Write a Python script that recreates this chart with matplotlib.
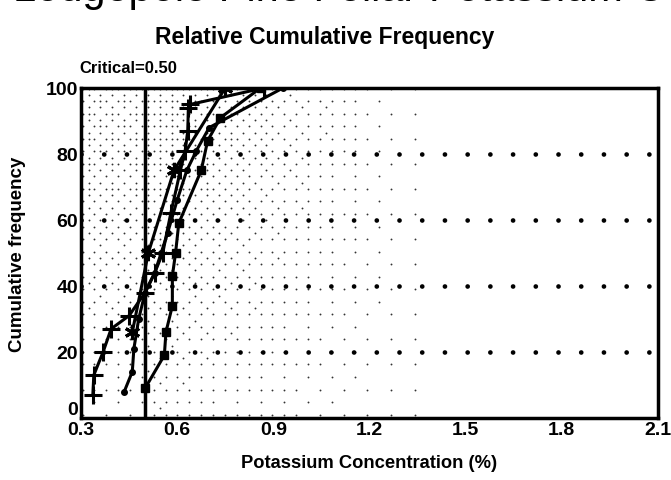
import numpy as np
import matplotlib
matplotlib.use("Agg")
import matplotlib.pyplot as plt

plt.rcParams['font.family'] = ['Liberation Sans', 'DejaVu Sans']

# Data
plus_x = [0.337, 0.34, 0.369, 0.394, 0.45, 0.50, 0.53, 0.555, 0.58, 0.61, 0.625, 0.633, 0.635, 0.64, 0.87]
plus_y = [7, 13, 20, 27, 31, 38, 44, 50, 62, 75, 81, 87, 94, 95, 100]

star_x = [0.46, 0.51, 0.59, 0.75]
star_y = [26, 50, 75, 100]

dot_x = [0.435, 0.46, 0.465, 0.48, 0.50, 0.53, 0.55, 0.57, 0.60, 0.63, 0.66, 0.70, 0.93]
dot_y = [8, 14, 21, 30, 38, 44, 50, 56, 66, 75, 81, 88, 100]

sq_x = [0.50, 0.56, 0.565, 0.585, 0.585, 0.595, 0.605, 0.675, 0.695, 0.735, 0.86]
sq_y = [9, 19, 26, 34, 43, 50, 59, 75, 84, 91, 100]

xticks = [0.3, 0.6, 0.9, 1.2, 1.5, 1.8, 2.1]
xtick_labels = ["0.3", "0.6", "0.9", "1.2", "1.5", "1.8", "2.1"]
yticks = [0, 20, 40, 60, 80, 100]
critical = 0.50

fig = plt.figure(figsize=(6.71, 4.81), dpi=100)
ax = fig.add_axes([0.1207, 0.129, 0.860, 0.686])
ax.set_xlim(0.3, 2.1)
ax.set_ylim(0, 100)

# stipple texture (decorative ordered dither)
bayer = np.array([[0, 8, 2, 10], [12, 4, 14, 6], [3, 11, 1, 9], [15, 7, 13, 5]]) / 16.0
gx = np.arange(0.305, 1.45, 0.0185)
gy = np.arange(1.0, 100, 1.9)
px, py = [], []
for i, xv in enumerate(gx):
    for j, yv in enumerate(gy):
        fx = np.clip((1.35 - xv) / 0.9, 0, 1)
        fy = np.clip((yv - 5) / 80, 0, 1)
        inten = 0.8 * fx * (0.35 + 0.65 * fy)
        if xv < 0.5:
            inten = 0.6 * (0.2 + 0.8 * fy)
        if inten > bayer[j % 4, i % 4]:
            px.append(xv); py.append(yv)
ax.scatter(px, py, s=1.8, color='#333333', linewidths=0, zorder=1)

# dotted grid lines
for yv in [20, 40, 60, 80]:
    ax.axhline(yv, color='black', lw=3.4, linestyle=(0, (0.01, 4.8)),
               dash_capstyle='round', zorder=2)

ax.axvline(critical, color='black', lw=2.5, zorder=3)

ax.plot(plus_x, plus_y, color='black', lw=2.2, marker='+', ms=13, mew=2.2, zorder=4)
ax.plot(star_x, star_y, color='black', lw=2.2, marker=(6, 2, 0), ms=11, mew=2.2, zorder=4)
ax.plot(dot_x, dot_y, color='black', lw=2.2, marker='o', ms=4, zorder=4)
ax.plot(sq_x, sq_y, color='black', lw=2.2, marker='s', ms=6, zorder=4)

for s in ax.spines.values():
    s.set_linewidth(2.5)
ax.set_xticks(xticks)
ax.set_xticklabels(xtick_labels)
ax.set_yticks(yticks)
ax.tick_params(length=0, labelsize=14, pad=2)
for lab in ax.get_xticklabels() + ax.get_yticklabels():
    lab.set_fontweight('bold')
ax.get_yticklabels()[0].set_va('bottom')
ax.set_xlabel("Potassium Concentration (%)", fontsize=13.2, fontweight='bold', labelpad=12)
ax.set_ylabel("Cumulative frequency", fontsize=13.5, fontweight='bold', labelpad=14)

fig.text(0.484, 0.923, "Relative Cumulative Frequency", ha='center', va='center',
         fontsize=16.5, fontweight='bold')
fig.text(0.118, 0.858, "Critical=0.50", ha='left', va='center', fontsize=12, fontweight='bold')
fig.text(0.02, 1 - 1 / 481, "Lodgepole Pine Foliar Potassium Concentration", ha='left',
         va='baseline', fontsize=30)

fig.savefig("out.png", dpi=100)
